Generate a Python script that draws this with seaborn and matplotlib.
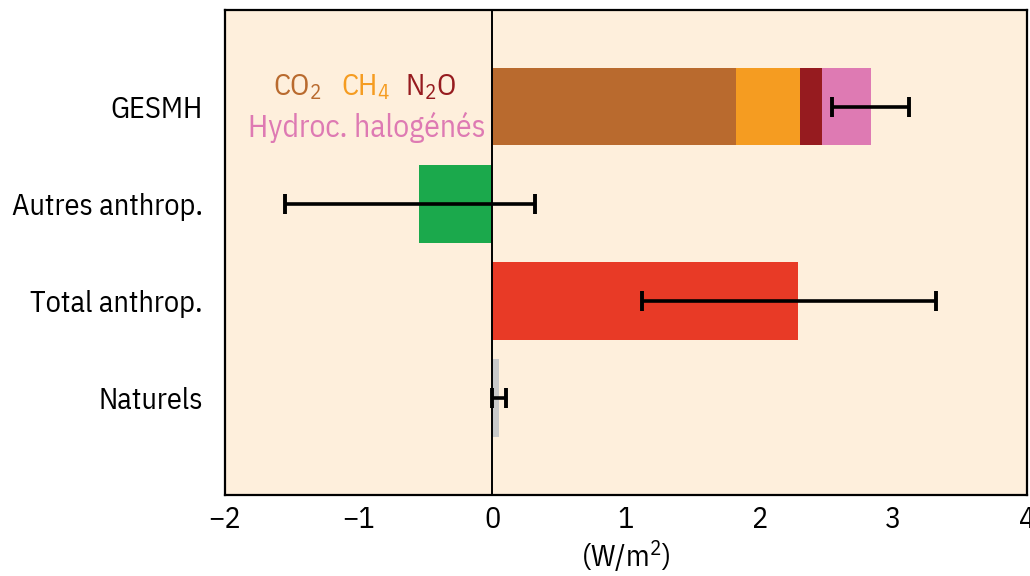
import matplotlib
matplotlib.use("Agg")
import matplotlib.pyplot as plt
import numpy as np
import pandas as pd
import seaborn as sns

# Categories, top to bottom
categories = ["GESMH", "Autres anthrop.", "Total anthrop.", "Naturels"]

# Radiative forcing (W/m2) of each category
forcing = [2.83, -0.55, 2.29, 0.05]

# Well-mixed greenhouse gas components (stacked in the first bar)
ghg_names = ["CO$_\\mathregular{2}$", "CH$_\\mathregular{4}$", "N$_\\mathregular{2}$O", "Hydroc. halogénés"]
ghg_values = [1.82, 0.48, 0.17, 0.36]

# Uncertainty ranges (low, high)
err_low = [2.54, -1.55, 1.12, 0.00]
err_high = [3.12, 0.32, 3.32, 0.10]

x_ticks = [-2, -1, 0, 1, 2, 3, 4]
x_tick_labels = ["\u22122", "\u22121", "0", "1", "2", "3", "4"]

bar_colors = ["#DE7AB3", "#1BA94C", "#E83A26", "#C9C9C9"]
ghg_colors = ["#B96A2E", "#F59C21", "#961B1F", "#DE7AB3"]
bg_color = "#FEEFDC"

sns.set_theme(style="white")
FONT = "IBM Plex Sans Condensed"
plt.rcParams["font.family"] = [FONT, "DejaVu Sans"]
plt.rcParams["mathtext.fontset"] = "custom"
plt.rcParams["mathtext.rm"] = FONT
plt.rcParams["mathtext.it"] = FONT
FS = 21.8

fig = plt.figure(figsize=(10.30, 5.76), dpi=100)
ax = fig.add_axes([0.2184, 0.1406, 0.7786, 0.8429])
ax.set_facecolor(bg_color)

df = pd.DataFrame({"cat": categories, "val": forcing})
sns.barplot(data=df, x="val", y="cat", order=categories, hue="cat",
            palette=dict(zip(categories, bar_colors)), legend=False,
            width=0.8, saturation=1, orient="h", ax=ax, linewidth=0)

# Stack the greenhouse gas components by overdrawing cumulative totals
cum = np.cumsum(ghg_values)
for total, color in zip(cum[::-1], ghg_colors[::-1]):
    sub = pd.DataFrame({"cat": [categories[0]], "val": [total]})
    sns.barplot(data=sub, x="val", y="cat", order=categories, color=color,
                width=0.8, saturation=1, orient="h", ax=ax, linewidth=0)

# Uncertainty bars
ypos = np.arange(len(categories))
lo = np.array(err_low)
hi = np.array(err_high)
mid = (lo + hi) / 2
ax.errorbar(mid, ypos, xerr=[mid - lo, hi - mid], fmt="none", ecolor="black",
            elinewidth=2.6, capsize=7.5, capthick=2.8, zorder=5)

ax.axvline(0, color="black", lw=1.4, zorder=4)

ax.set_xlim(-2, 4)
ax.set_ylim(4, -1)
ax.set_xticks(x_ticks)
ax.set_xticklabels(x_tick_labels)
ax.set_yticks(ypos)
ax.set_yticklabels(categories)
ax.tick_params(axis="both", direction="in", length=9, width=1.3, color="black",
               labelsize=FS, labelcolor="black")
ax.tick_params(axis="x", pad=8)
ax.tick_params(axis="y", pad=16)
ax.set_xlabel("(W/m$^\\mathregular{2}$)", fontsize=FS, labelpad=3, color="black")
ax.set_ylabel("")
for s in ax.spines.values():
    s.set_visible(True)
    s.set_color("black")
    s.set_linewidth(1.6)

# In-plot labels for the greenhouse gas components
top_y, low_y = -0.20, 0.21
for name, color, xc in zip(ghg_names[:3], ghg_colors[:3], [-1.46, -0.95, -0.46]):
    ax.text(xc, top_y, name, color=color, fontsize=FS, ha="center", va="center")
ax.text(-0.94, low_y, ghg_names[3], color=ghg_colors[3], fontsize=22.8,
        ha="center", va="center")

fig.savefig("out.png", dpi=100, facecolor="white")
